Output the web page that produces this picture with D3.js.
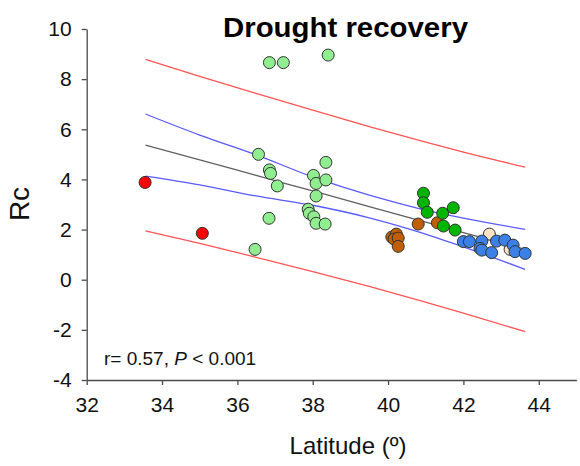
<!DOCTYPE html>
<html>
<head>
<meta charset="utf-8">
<script src="https://cdn.jsdelivr.net/npm/d3@7"></script>
<style>
  html, body { margin: 0; padding: 0; background: #fff; }
  svg { display: block; font-family: Arial, "Liberation Sans", sans-serif; }
</style>
</head>
<body>
<svg id="chart" width="580" height="466"></svg>
<script>
// ---- data ----
const redPoints = [[33.55, 3.88], [35.07, 1.85]];
const lightGreenPoints = [
  [36.85, 8.66], [37.22, 8.66], [38.41, 8.96],
  [36.56, 5.00], [36.85, 4.38], [36.88, 4.24], [37.06, 3.74],
  [36.84, 2.45], [36.47, 1.21],
  [38.35, 4.68], [38.02, 4.16], [38.09, 3.84], [38.35, 3.98],
  [38.09, 3.34], [37.88, 2.81], [37.91, 2.65], [38.03, 2.51],
  [38.09, 2.25], [38.33, 2.22]
];
const darkGreenPoints = [
  [40.94, 3.45], [40.94, 3.07], [41.04, 2.69], [41.45, 2.65],
  [41.73, 2.87], [41.47, 2.14], [41.78, 1.98]
];
const brownPoints = [
  [40.80, 2.22], [41.31, 2.27], [40.10, 1.70], [40.22, 1.82],
  [40.16, 1.62], [40.27, 1.66], [40.27, 1.33]
];
const bluePoints = [
  [42.00, 1.52], [42.16, 1.52], [42.49, 1.54], [42.44, 1.25],
  [42.49, 1.18], [42.75, 1.08], [42.88, 1.54], [43.10, 1.58],
  [43.32, 1.38], [43.37, 1.12], [43.64, 1.05]
];
const peachPoints = [[42.69, 1.82], [43.24, 1.21]];

const bandLat      = [33.56, 35.0, 36.45, 38.0, 39.5, 40.85, 42.0, 43.64];
const regression   = [5.37, 4.78, 4.18, 3.54, 2.92, 2.36, 1.88, 1.21];
const upperCI      = [6.61, 5.77, 5.01, 4.10, 3.37, 2.83, 2.46, 2.01];
const lowerCI      = [4.13, 3.78, 3.35, 2.97, 2.47, 1.89, 1.31, 0.41];
const upperPI      = [8.79, 8.11, 7.45, 6.76, 6.11, 5.55, 5.09, 4.49];
const lowerPI      = [1.95, 1.45, 0.91, 0.32, -0.27, -0.83, -1.33, -2.07];

const xTicks = [32, 34, 36, 38, 40, 42, 44];
const yTicks = [-4, -2, 0, 2, 4, 6, 8, 10];

// ---- drawing ----
const svg = d3.select("#chart");
const x = d3.scaleLinear().domain([32, 45]).range([86.7, 576.4]);
const y = d3.scaleLinear().domain([-4, 10]).range([380, 29]);

const axisColor = "#4a4a4a";

// lines
const line = d3.line().x(d => x(d[0])).y(d => y(d[1])).curve(d3.curveMonotoneX);
const mk = vals => bandLat.map((l, i) => [l, vals[i]]);
const lines = [
  {v: upperPI, c: "#ff5555"},
  {v: lowerPI, c: "#ff5555"},
  {v: upperCI, c: "#5a5aff"},
  {v: lowerCI, c: "#5a5aff"},
  {v: regression, c: "#606060"}
];
svg.append("g").selectAll("path").data(lines).join("path")
  .attr("d", d => line(mk(d.v)))
  .attr("fill", "none")
  .attr("stroke", d => d.c)
  .attr("stroke-width", 1.3);

// points
const groups = [
  {pts: lightGreenPoints, c: "#90ee90"},
  {pts: redPoints, c: "#ff0000"},
  {pts: brownPoints, c: "#c05f00"},
  {pts: darkGreenPoints, c: "#00b400"},
  {pts: peachPoints, c: "#fde3c4"},
  {pts: bluePoints, c: "#3a80e6"}
];
groups.forEach(g => {
  svg.append("g").selectAll("circle").data(g.pts).join("circle")
    .attr("cx", d => x(d[0]))
    .attr("cy", d => y(d[1]))
    .attr("r", 6)
    .attr("fill", g.c)
    .attr("stroke", "#333")
    .attr("stroke-width", 1);
});

// axes
const fmt = d => String(d);
const xAxis = svg.append("g")
  .attr("transform", `translate(0,${y(-4)})`)
  .call(d3.axisBottom(x).tickValues(xTicks).tickFormat(fmt).tickSize(5).tickPadding(12).tickSizeOuter(0));
const yAxis = svg.append("g")
  .attr("transform", `translate(${x(32)},0)`)
  .call(d3.axisLeft(y).tickValues(yTicks).tickFormat(fmt).tickSize(5).tickPadding(10).tickSizeOuter(0));
[xAxis, yAxis].forEach(a => {
  a.select(".domain").attr("stroke", axisColor).attr("stroke-width", 1.3);
  a.selectAll(".tick line").attr("stroke", axisColor).attr("stroke-width", 1.3);
  a.selectAll(".tick text").attr("fill", "#111").style("font-size", "21px")
    .style("font-family", "Arial, 'Liberation Sans', sans-serif");
});

// title
svg.append("text")
  .attr("x", 345.5).attr("y", 37)
  .attr("text-anchor", "middle")
  .attr("textLength", 245).attr("lengthAdjust", "spacingAndGlyphs")
  .style("font-size", "27px").style("font-weight", "bold")
  .attr("fill", "#000")
  .text("Drought recovery");

// axis labels
svg.append("text")
  .attr("transform", "translate(29,204) rotate(-90)")
  .attr("text-anchor", "middle")
  .style("font-size", "28px")
  .attr("fill", "#111")
  .text("Rc");

svg.append("text")
  .attr("x", 348).attr("y", 454)
  .attr("text-anchor", "middle")
  .style("font-size", "24px")
  .attr("fill", "#111")
  .text("Latitude (º)");

// annotation
const ann = svg.append("text")
  .attr("x", 104).attr("y", 365)
  .style("font-size", "19px")
  .attr("fill", "#111");
ann.append("tspan").text("r= 0.57, ");
ann.append("tspan").style("font-style", "italic").text("P");
ann.append("tspan").text(" < 0.001");
</script>
</body>
</html>
